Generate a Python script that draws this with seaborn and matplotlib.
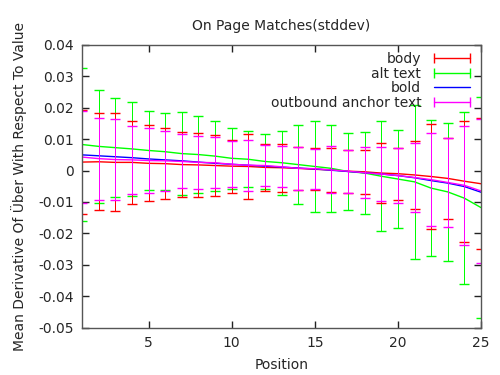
import matplotlib
matplotlib.use('Agg')
import matplotlib.pyplot as plt
from matplotlib.lines import Line2D
import numpy as np
import pandas as pd
import seaborn as sns

positions = list(range(1, 26))

body_mean = [0.0027, 0.0028, 0.0026, 0.0026, 0.0023, 0.0022, 0.0019, 0.0018, 0.0016, 0.0014,
             0.0013, 0.0010, 0.0009, 0.0007, 0.0004, 0.0002, -0.0002, -0.0004, -0.0008, -0.0010,
             -0.0014, -0.0019, -0.0025, -0.0034, -0.0042]
body_std = [0.0166, 0.0154, 0.0156, 0.0131, 0.0121, 0.0113, 0.0103, 0.0102, 0.0096, 0.0084,
            0.0104, 0.0076, 0.0077, 0.0069, 0.0067, 0.0070, 0.0069, 0.0071, 0.0095, 0.0083,
            0.0109, 0.0168, 0.0128, 0.0193, 0.0208]

alt_mean = [0.0083, 0.0077, 0.0073, 0.0069, 0.0064, 0.0060, 0.0054, 0.0051, 0.0046, 0.0039,
            0.0036, 0.0029, 0.0025, 0.0019, 0.0013, 0.0007, -0.0003, -0.0008, -0.0018, -0.0027,
            -0.0036, -0.0056, -0.0068, -0.0088, -0.0118]
alt_std = [0.0244, 0.0180, 0.0158, 0.0149, 0.0127, 0.0122, 0.0133, 0.0123, 0.0111, 0.0097,
           0.0089, 0.0088, 0.0102, 0.0127, 0.0145, 0.0139, 0.0122, 0.0132, 0.0176, 0.0157,
           0.0246, 0.0217, 0.0220, 0.0273, 0.0351]

bold_mean = [0.0050, 0.0047, 0.0044, 0.0041, 0.0037, 0.0034, 0.0031, 0.0027, 0.0023, 0.0020,
             0.0017, 0.0014, 0.0011, 0.0008, 0.0005, 0.0001, -0.0003, -0.0007, -0.0011, -0.0016,
             -0.0023, -0.0032, -0.0040, -0.0051, -0.0069]

anchor_mean = [0.0043, 0.0038, 0.0035, 0.0034, 0.0032, 0.0031, 0.0029, 0.0026, 0.0025, 0.0020,
               0.0017, 0.0016, 0.0012, 0.0007, 0.0006, 0.0002, -0.0002, -0.0007, -0.0011, -0.0016,
               -0.0022, -0.0029, -0.0038, -0.0047, -0.0065]
anchor_std = [0.0146, 0.0131, 0.0128, 0.0108, 0.0104, 0.0095, 0.0086, 0.0085, 0.0082, 0.0073,
              0.0081, 0.0066, 0.0065, 0.0068, 0.0064, 0.0075, 0.0069, 0.0081, 0.0085, 0.0088,
              0.0109, 0.0149, 0.0141, 0.0189, 0.0230]

series_names = ['body', 'alt text', 'bold', 'outbound anchor text']
colors = {'body': '#ff0000', 'alt text': '#00ff00', 'bold': '#0000ff',
          'outbound anchor text': '#ff00ff'}

sns.set_style('ticks')
plt.rcParams['font.family'] = ['DejaVu Sans']

df = pd.DataFrame({
    'Position': positions * 4,
    'Value': body_mean + alt_mean + bold_mean + anchor_mean,
    'Series': sum([[n] * len(positions) for n in series_names], []),
})

fig = plt.figure(figsize=(5, 3.75), dpi=100)
ax = fig.add_axes([82 / 500, 1 - 327.5 / 375, (481 - 82) / 500, (327.5 - 45) / 375])

# mean lines
sns.lineplot(data=df, x='Position', y='Value', hue='Series', palette=colors,
             hue_order=series_names, linewidth=1, legend=False, ax=ax)

# stddev error bars (magenta on top like the original)
for m, s, n in [(alt_mean, alt_std, 'alt text'), (body_mean, body_std, 'body'),
                (anchor_mean, anchor_std, 'outbound anchor text')]:
    eb = ax.errorbar(positions, m, yerr=s, fmt='none', ecolor=colors[n],
                     elinewidth=0.72, capsize=3.5, capthick=1)
    for coll in eb.lines[2]:
        coll.set_snap(True)
        coll.set_antialiased(False)

ax.set_xlim(1, 25)
ax.set_ylim(-0.05, 0.04)
ax.set_xticks([5, 10, 15, 20, 25])
ax.set_yticks(np.arange(-0.05, 0.041, 0.01))
ax.set_yticklabels(['-0.05', '-0.04', '-0.03', '-0.02', '-0.01', '0',
                    '0.01', '0.02', '0.03', '0.04'])
ax.tick_params(direction='in', length=5, width=1, top=True, right=True,
               labelsize=10, pad=6, color='#222222')
for sp in ax.spines.values():
    sp.set_color('#555555')
    sp.set_linewidth(1)

ax.set_title('On Page Matches(stddev)', fontsize=10, pad=11)
ax.set_xlabel('Position', fontsize=10, labelpad=6)
ax.set_ylabel('Mean Derivative Of Über With Respect To Value', fontsize=10, labelpad=8)

handles = [
    Line2D([0], [0], color=colors['body'], lw=1, marker='|', markersize=7, mew=1),
    Line2D([0], [0], color=colors['alt text'], lw=1, marker='|', markersize=7, mew=1),
    Line2D([0], [0], color=colors['bold'], lw=1),
    Line2D([0], [0], color=colors['outbound anchor text'], lw=1, marker='|', markersize=7, mew=1),
]
ax.legend(handles, series_names, loc='upper right', frameon=False, markerfirst=False,
          numpoints=2, fontsize=10, handlelength=3.2, labelspacing=0.05,
          borderaxespad=0.2, handletextpad=0.6, borderpad=0.3)

fig.savefig('out.png', dpi=100)
